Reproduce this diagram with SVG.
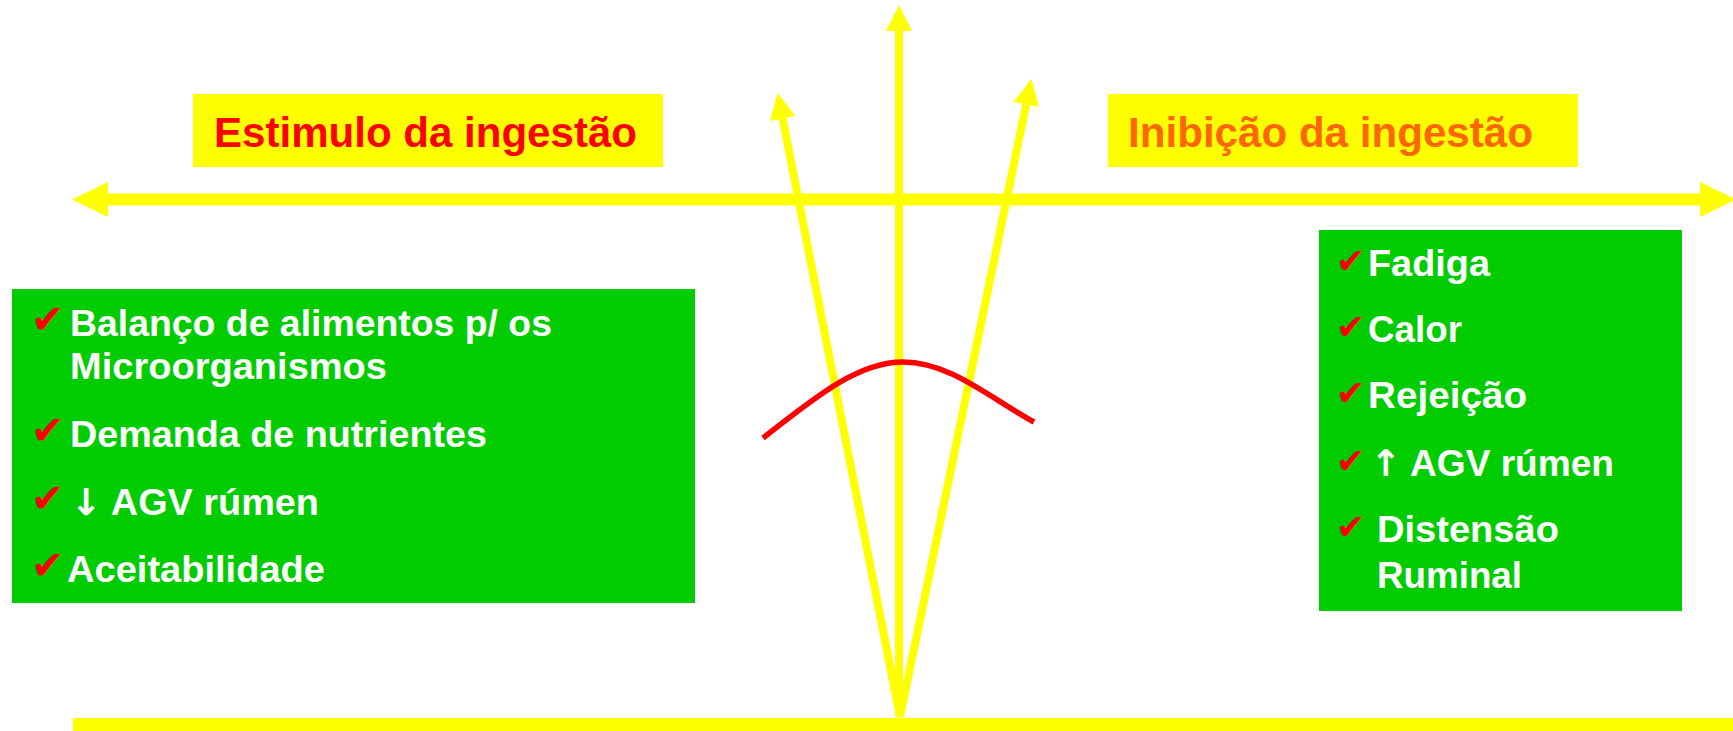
<svg xmlns="http://www.w3.org/2000/svg" width="1733" height="731" viewBox="0 0 1733 731">
<style>
.ybox{fill:#FFFF00}
.gbox{fill:#00CC00}
.title{font-family:"Liberation Sans",Arial,sans-serif;font-weight:bold;font-size:43px}
.item{font-family:"Liberation Sans","DejaVu Sans",Arial,sans-serif;font-weight:bold;fill:#FFFFFF}
.left{font-size:37px}
.right{font-size:37px}
.arr{font-family:"DejaVu Sans",sans-serif;font-weight:bold}
.chk{font-family:"DejaVu Sans",sans-serif;fill:#FF0000}
.cl{font-size:40px}
.cr{font-size:35px}
.ax{stroke:#FFFF00;fill:none}
</style>
<defs>
<marker id="headS" markerUnits="userSpaceOnUse" markerWidth="26" markerHeight="26" refX="0" refY="12.5" orient="auto" viewBox="0 0 25 25" overflow="visible">
<path d="M0,0 L25,12.5 L0,25 Z" fill="#FFFF00"/>
</marker>
<marker id="headL" markerUnits="userSpaceOnUse" markerWidth="36" markerHeight="36" refX="0" refY="16.5" orient="auto-start-reverse" viewBox="0 0 34 33" overflow="visible">
<path d="M0,0 L34,16.5 L0,33 Z" fill="#FFFF00"/>
</marker>
</defs>

<g id="connectors">
<line class="ax" x1="108" y1="199.5" x2="1700" y2="199.5" stroke-width="12" marker-start="url(#headL)" marker-end="url(#headL)"/>
<line class="ax" x1="73" y1="724.5" x2="1733" y2="724.5" stroke-width="13"/>
<line class="ax" x1="899" y1="717" x2="899" y2="31" stroke-width="8" marker-end="url(#headS)"/>
<line class="ax" x1="900" y1="717" x2="782.6" y2="118.5" stroke-width="8" marker-end="url(#headS)"/>
<line class="ax" x1="900" y1="717" x2="1026.2" y2="104.5" stroke-width="8" marker-end="url(#headS)"/>
<path d="M763,438 C820,393 860,362 903,362 C950,362 990,398 1034,422" fill="none" stroke="#FF0000" stroke-width="5.5"/>
</g>

<g id="title-stimulus">
<rect class="ybox" x="193" y="94" width="470" height="73"/>
<text class="title" x="214" y="147" fill="#FF0000" textLength="423" lengthAdjust="spacingAndGlyphs">Estimulo da ingestão</text>
</g>

<g id="title-inhibition">
<rect class="ybox" x="1108" y="94" width="470" height="73"/>
<text class="title" x="1128" y="147" fill="#FF6600" textLength="405" lengthAdjust="spacingAndGlyphs">Inibição da ingestão</text>
</g>

<g id="box-stimulus">
<rect class="gbox" x="12" y="289" width="683" height="314"/>
<text class="chk cl" x="31" y="333">✔</text>
<text class="item left" x="70" y="336" textLength="482" lengthAdjust="spacingAndGlyphs">Balanço de alimentos p/ os</text>
<text class="item left" x="70" y="379" textLength="317" lengthAdjust="spacingAndGlyphs">Microorganismos</text>
<text class="chk cl" x="31" y="444">✔</text>
<text class="item left" x="70" y="447" textLength="417" lengthAdjust="spacingAndGlyphs">Demanda de nutrientes</text>
<text class="chk cl" x="31" y="512">✔</text>
<text class="item left" x="70" y="515" textLength="249" lengthAdjust="spacingAndGlyphs"><tspan class="arr">↓</tspan> AGV rúmen</text>
<text class="chk cl" x="31" y="579">✔</text>
<text class="item left" x="67" y="582" textLength="258" lengthAdjust="spacingAndGlyphs">Aceitabilidade</text>
</g>

<g id="box-inhibition">
<rect class="gbox" x="1319" y="230" width="363" height="381"/>
<text class="chk cr" x="1336" y="273">✔</text>
<text class="item right" x="1368" y="276" textLength="122" lengthAdjust="spacingAndGlyphs">Fadiga</text>
<text class="chk cr" x="1336" y="339">✔</text>
<text class="item right" x="1368" y="342" textLength="94" lengthAdjust="spacingAndGlyphs">Calor</text>
<text class="chk cr" x="1336" y="405">✔</text>
<text class="item right" x="1368" y="408" textLength="159" lengthAdjust="spacingAndGlyphs">Rejeição</text>
<text class="chk cr" x="1336" y="473">✔</text>
<text class="item right" x="1370" y="476" textLength="244" lengthAdjust="spacingAndGlyphs"><tspan class="arr">↑</tspan> AGV rúmen</text>
<text class="chk cr" x="1336" y="539">✔</text>
<text class="item right" x="1377" y="542" textLength="182" lengthAdjust="spacingAndGlyphs">Distensão</text>
<text class="item right" x="1377" y="588" textLength="145" lengthAdjust="spacingAndGlyphs">Ruminal</text>
</g>
</svg>
